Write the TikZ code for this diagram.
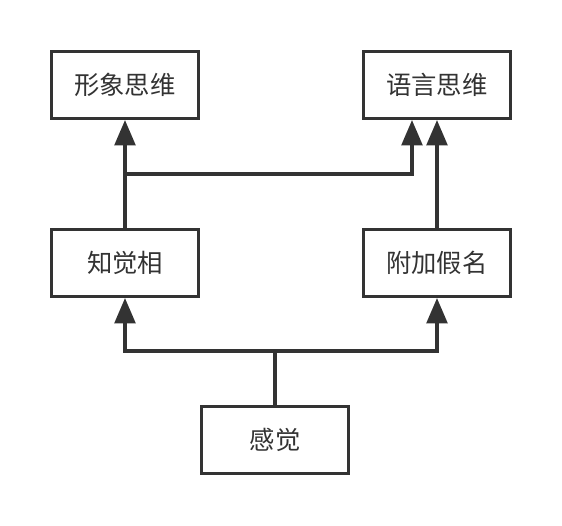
\documentclass[tikz,border=0pt]{standalone}
\usepackage{fontspec}
\usepackage{xcolor}
\usepackage{tikz}
\usetikzlibrary{arrows.meta}
\newfontfamily\cjk{Noto Sans CJK SC}
\definecolor{ink}{HTML}{333333}

\begin{document}
\begin{tikzpicture}[x=0.75pt,y=-0.75pt,
  box/.style={draw=ink,line width=2.5pt,minimum width=110pt,minimum height=50pt,
    text=ink,font=\cjk\fontsize{19}{19}\selectfont},
  link/.style={ink,line width=2.5pt,-{Triangle[length=19pt,width=15.5pt]}}]
\useasboundingbox (0,0) rectangle (562,526);

\node[box] (image) at (125,85) {形象思维};
\node[box] (lang) at (437,85) {语言思维};
\node[box] (percept) at (125,263) {知觉相};
\node[box] (name) at (437,263) {附加假名};
\node[box] (sense) at (275,440) {感觉};

\coordinate (split) at (275,351);
\draw[link] (sense.north) -- (split) -| (percept.south);
\draw[link] (split) -| (name.south);

\coordinate (join) at (125,174);
\draw[link] (percept.north) -- (image.south);
\draw[link] (join) -| ([xshift=-18.75pt]lang.south);
\draw[link] (name.north) -- (lang.south);
\end{tikzpicture}
\end{document}
